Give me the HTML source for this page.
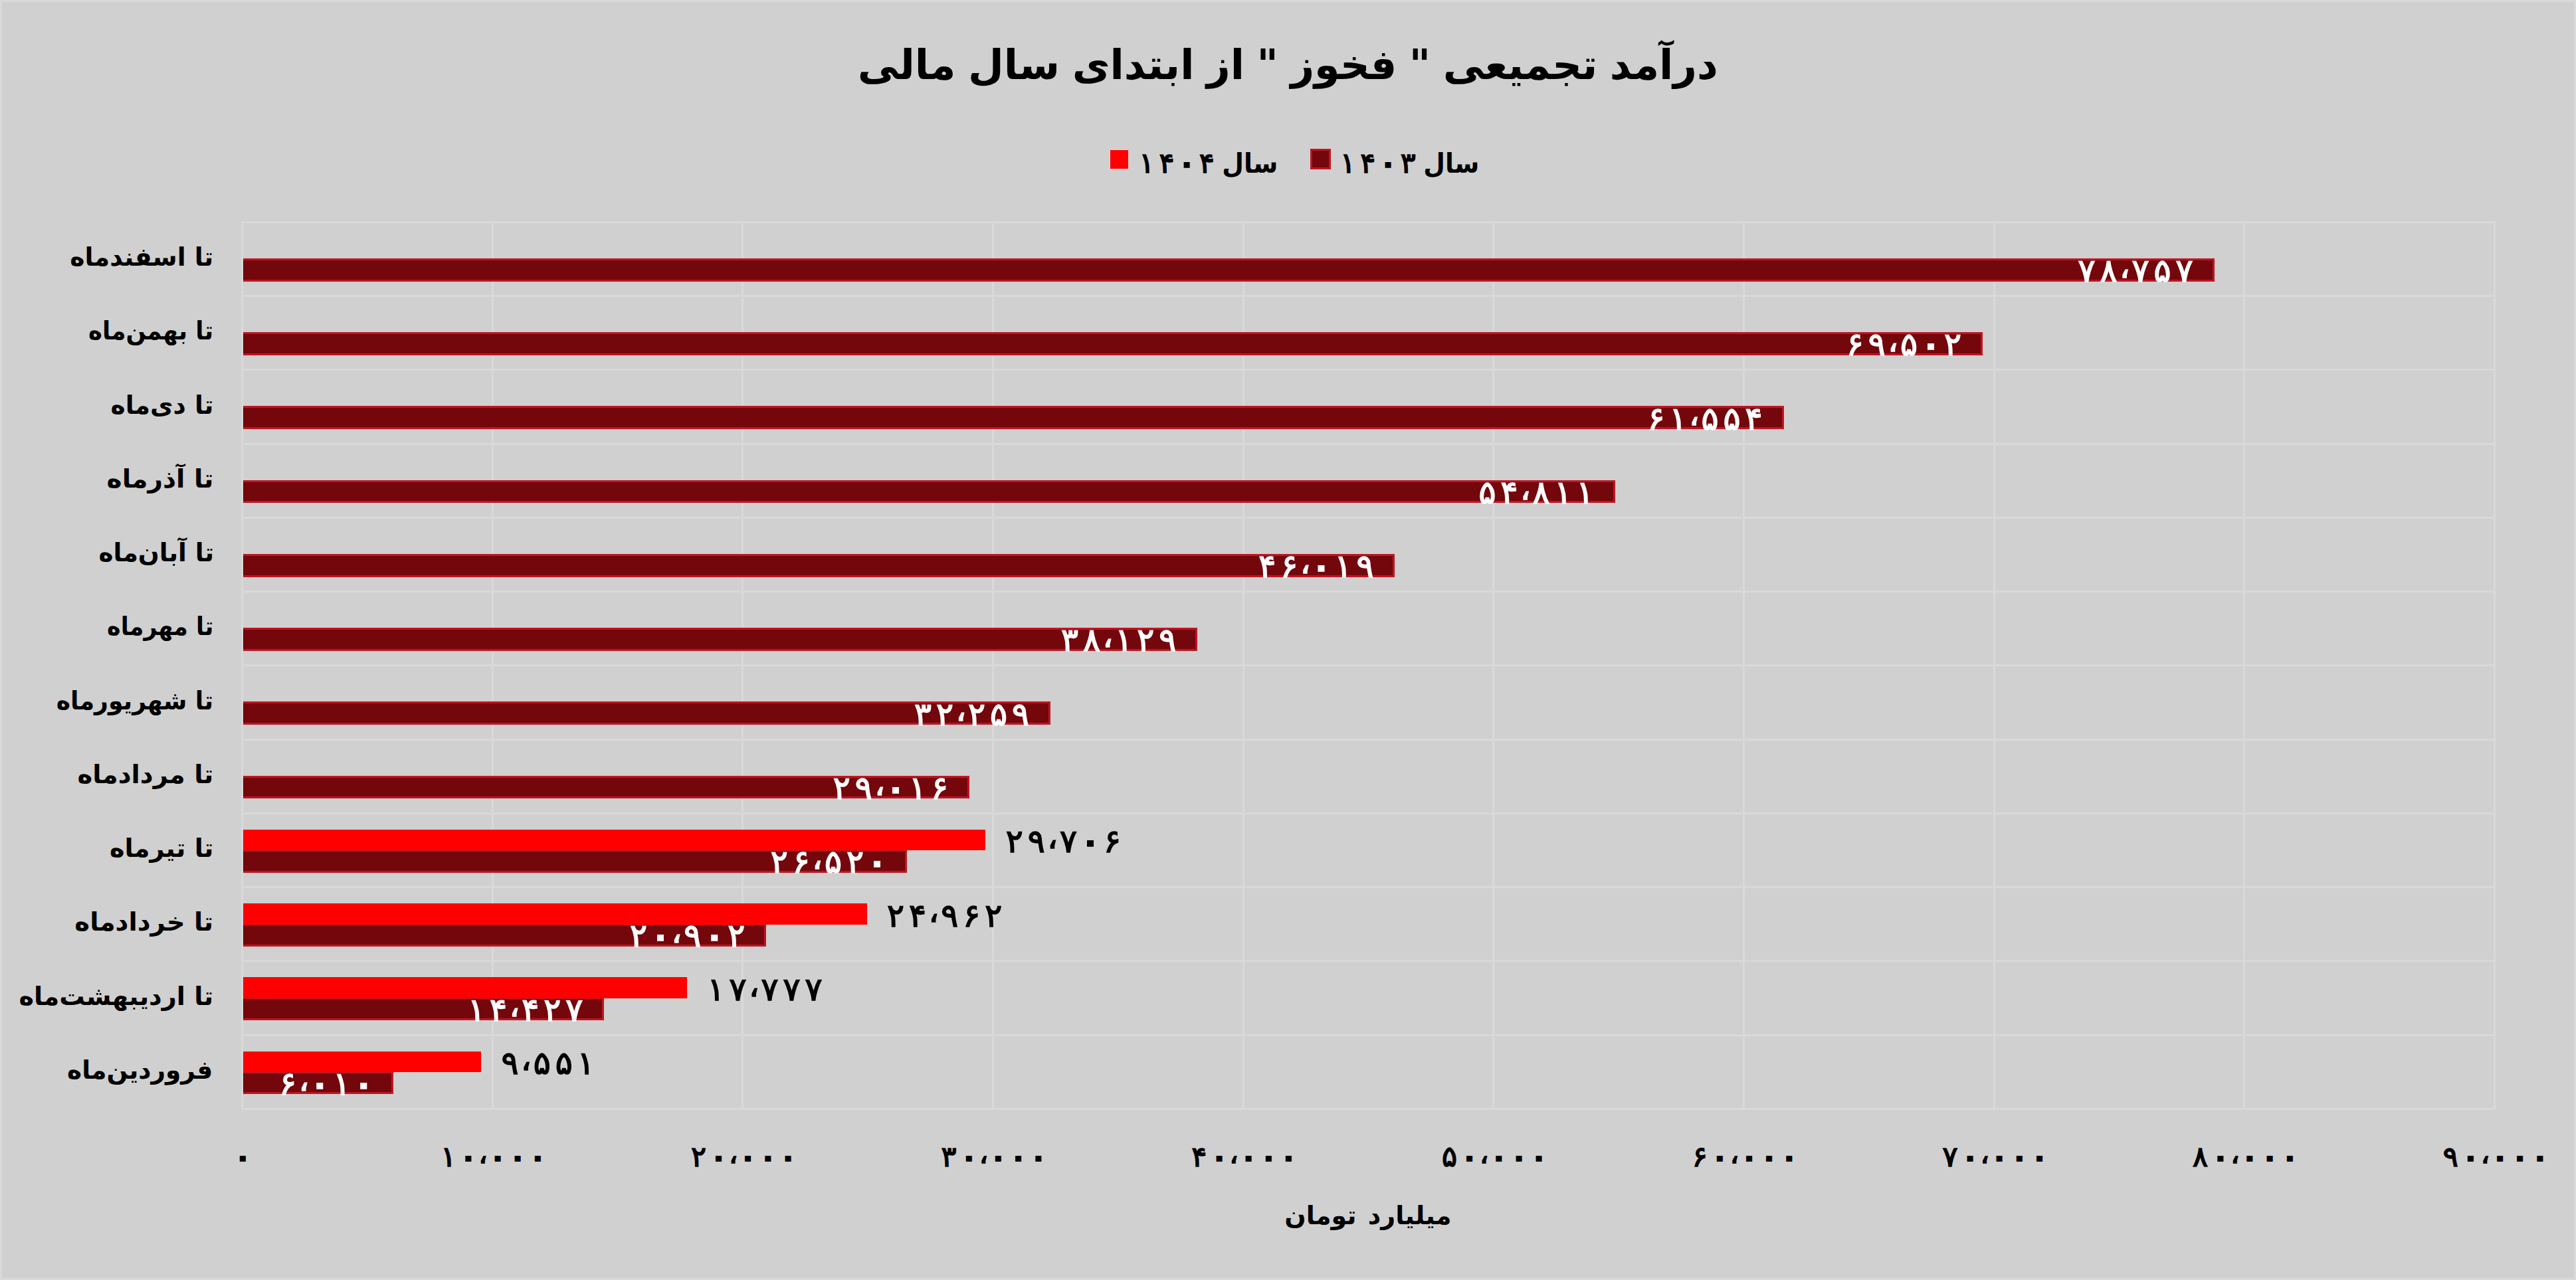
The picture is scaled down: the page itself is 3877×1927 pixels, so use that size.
<!DOCTYPE html>
<html lang="fa"><head><meta charset="utf-8"><title>درآمد تجمیعی فخوز</title>
<style>
html,body{margin:0;padding:0}
body{width:3877px;height:1927px;background:#d0d0d0;position:relative;overflow:hidden;font-family:"DejaVu Sans","Liberation Sans",sans-serif;font-weight:bold;color:#000}
#frame{position:absolute;left:0;top:0;width:3877px;height:1927px;box-sizing:border-box;border:3px solid #d9d9d9}
.t{position:absolute;white-space:nowrap;line-height:1}
.g{position:absolute;background:#d9d9d9}
.d{position:absolute;box-sizing:border-box;background:#73070c;border:3px solid #c01422;border-left:none}
.r{position:absolute;background:#ff0000}
.cat{font-size:38px;direction:rtl;text-align:right;transform-origin:100% 50%;right:3555.5px}
.n{direction:ltr;unicode-bidi:isolate;font-weight:normal;-webkit-text-stroke:1.6px}
.n i,.n b{display:inline-block;font-style:normal;text-align:center}.n i.c{position:relative;top:-.13em}
.vl,.vb{font-size:48.3px}.vl{color:#fff}
.vl i,.vb i,.vl b,.vb b{width:33px}.vl i.c,.vb i.c{width:15.2px}
.ax{font-size:42.8px;top:1720.3px}
.ax i,.lg i,.ax b,.lg b{width:30.2px}.ax i.c{width:13.9px}
</style></head><body>
<div id="frame"></div>
<div class="t" id="title" style="left:0;width:3876.6px;text-align:center;top:66.6px;font-size:62px;direction:rtl;word-spacing:-3px">درآمد تجمیعی " فخوز " از ابتدای سال مالی</div>
<div class="r" style="left:1671px;top:226px;width:27px;height:28px"></div>
<div class="t" style="left:1710.7px;width:212.6px;top:224.1px;font-size:42.8px;direction:rtl"><span style="display:inline-block;transform:scaleX(.92);transform-origin:100% 50%;font-size:41px">سال</span> <span class="n lg" style="position:absolute;left:0;top:0"><i>۱</i><i>۴</i><b>۰</b><i>۴</i></span></div>
<div class="d" style="left:1972px;top:224px;width:31px;height:31px;border-left:3px solid #c01422"></div>
<div class="t" style="left:2013.5px;width:212.6px;top:224.1px;font-size:42.8px;direction:rtl"><span style="display:inline-block;transform:scaleX(.92);transform-origin:100% 50%;font-size:41px">سال</span> <span class="n lg" style="position:absolute;left:0;top:0"><i>۱</i><i>۴</i><b>۰</b><i>۳</i></span></div>
<div class="g" style="left:362.9px;top:332.8px;width:3393.2px;height:3px"></div>
<div class="g" style="left:362.9px;top:444.1px;width:3393.2px;height:3px"></div>
<div class="g" style="left:362.9px;top:555.3px;width:3393.2px;height:3px"></div>
<div class="g" style="left:362.9px;top:666.5px;width:3393.2px;height:3px"></div>
<div class="g" style="left:362.9px;top:777.8px;width:3393.2px;height:3px"></div>
<div class="g" style="left:362.9px;top:889.0px;width:3393.2px;height:3px"></div>
<div class="g" style="left:362.9px;top:1000.3px;width:3393.2px;height:3px"></div>
<div class="g" style="left:362.9px;top:1111.5px;width:3393.2px;height:3px"></div>
<div class="g" style="left:362.9px;top:1222.8px;width:3393.2px;height:3px"></div>
<div class="g" style="left:362.9px;top:1334.0px;width:3393.2px;height:3px"></div>
<div class="g" style="left:362.9px;top:1445.3px;width:3393.2px;height:3px"></div>
<div class="g" style="left:362.9px;top:1556.5px;width:3393.2px;height:3px"></div>
<div class="g" style="left:362.9px;top:1667.8px;width:3393.2px;height:3px"></div>
<div class="g" style="left:362.9px;top:332.8px;width:3px;height:1338.0px"></div>
<div class="g" style="left:739.6px;top:332.8px;width:3px;height:1338.0px"></div>
<div class="g" style="left:1116.3px;top:332.8px;width:3px;height:1338.0px"></div>
<div class="g" style="left:1493.0px;top:332.8px;width:3px;height:1338.0px"></div>
<div class="g" style="left:1869.7px;top:332.8px;width:3px;height:1338.0px"></div>
<div class="g" style="left:2246.3px;top:332.8px;width:3px;height:1338.0px"></div>
<div class="g" style="left:2623.0px;top:332.8px;width:3px;height:1338.0px"></div>
<div class="g" style="left:2999.7px;top:332.8px;width:3px;height:1338.0px"></div>
<div class="g" style="left:3376.4px;top:332.8px;width:3px;height:1338.0px"></div>
<div class="g" style="left:3753.1px;top:332.8px;width:3px;height:1338.0px"></div>
<div class="d" style="left:365.9px;top:388.9px;width:2966.7px;height:34.7px"></div>
<div class="t cat" style="top:368.2px;transform:scaleX(0.994)">تا اسفندماه</div>
<div class="t n vl" style="left:3123.9px;top:383.1px"><i>۷</i><i>۸</i><i class="c">،</i><i>۷</i><i>۵</i><i>۷</i></div>
<div class="d" style="left:365.9px;top:500.1px;width:2618.1px;height:34.7px"></div>
<div class="t cat" style="top:479.4px;transform:scaleX(0.935)">تا بهمن‌ماه</div>
<div class="t n vl" style="left:2775.3px;top:494.3px"><i>۶</i><i>۹</i><i class="c">،</i><i>۵</i><b>۰</b><i>۲</i></div>
<div class="d" style="left:365.9px;top:611.4px;width:2318.7px;height:34.7px"></div>
<div class="t cat" style="top:590.7px;transform:scaleX(0.991)">تا دی‌ماه</div>
<div class="t n vl" style="left:2475.9px;top:605.6px"><i>۶</i><i>۱</i><i class="c">،</i><i>۵</i><i>۵</i><i>۴</i></div>
<div class="d" style="left:365.9px;top:722.6px;width:2064.7px;height:34.7px"></div>
<div class="t cat" style="top:701.9px;transform:scaleX(1.028)">تا آذرماه</div>
<div class="t n vl" style="left:2221.9px;top:716.8px"><i>۵</i><i>۴</i><i class="c">،</i><i>۸</i><i>۱</i><i>۱</i></div>
<div class="d" style="left:365.9px;top:833.9px;width:1733.5px;height:34.7px"></div>
<div class="t cat" style="top:813.2px;transform:scaleX(0.986)">تا آبان‌ماه</div>
<div class="t n vl" style="left:1890.7px;top:828.1px"><i>۴</i><i>۶</i><i class="c">،</i><b>۰</b><i>۱</i><i>۹</i></div>
<div class="d" style="left:365.9px;top:945.1px;width:1436.3px;height:34.7px"></div>
<div class="t cat" style="top:924.4px;transform:scaleX(0.919)">تا مهرماه</div>
<div class="t n vl" style="left:1593.5px;top:939.3px"><i>۳</i><i>۸</i><i class="c">،</i><i>۱</i><i>۲</i><i>۹</i></div>
<div class="d" style="left:365.9px;top:1056.4px;width:1215.2px;height:34.7px"></div>
<div class="t cat" style="top:1035.7px;transform:scaleX(0.953)">تا شهریورماه</div>
<div class="t n vl" style="left:1372.4px;top:1050.6px"><i>۳</i><i>۲</i><i class="c">،</i><i>۲</i><i>۵</i><i>۹</i></div>
<div class="d" style="left:365.9px;top:1167.7px;width:1093.0px;height:34.7px"></div>
<div class="t cat" style="top:1146.9px;transform:scaleX(1.018)">تا مردادماه</div>
<div class="t n vl" style="left:1250.2px;top:1161.8px"><i>۲</i><i>۹</i><i class="c">،</i><b>۰</b><i>۱</i><i>۶</i></div>
<div class="d" style="left:365.9px;top:1278.9px;width:999.0px;height:34.7px"></div>
<div class="r" style="left:365.9px;top:1248.7px;width:1117.5px;height:31.7px"></div>
<div class="t cat" style="top:1258.2px;transform:scaleX(1.007)">تا تیرماه</div>
<div class="t n vl" style="left:1156.2px;top:1273.1px"><i>۲</i><i>۶</i><i class="c">،</i><i>۵</i><i>۲</i><b>۰</b></div>
<div class="t n vb" style="left:1510.3px;top:1242.4px"><i>۲</i><i>۹</i><i class="c">،</i><i>۷</i><b>۰</b><i>۶</i></div>
<div class="d" style="left:365.9px;top:1390.2px;width:787.4px;height:34.7px"></div>
<div class="r" style="left:365.9px;top:1360.0px;width:938.8px;height:31.7px"></div>
<div class="t cat" style="top:1369.4px;transform:scaleX(1.018)">تا خردادماه</div>
<div class="t n vl" style="left:944.6px;top:1384.3px"><i>۲</i><b>۰</b><i class="c">،</i><i>۹</i><b>۰</b><i>۲</i></div>
<div class="t n vb" style="left:1331.6px;top:1353.6px"><i>۲</i><i>۴</i><i class="c">،</i><i>۹</i><i>۶</i><i>۲</i></div>
<div class="d" style="left:365.9px;top:1501.4px;width:543.4px;height:34.7px"></div>
<div class="r" style="left:365.9px;top:1471.2px;width:668.1px;height:31.7px"></div>
<div class="t cat" style="top:1480.7px;transform:scaleX(1.009)">تا اردیبهشت‌ماه</div>
<div class="t n vl" style="left:700.6px;top:1495.6px"><i>۱</i><i>۴</i><i class="c">،</i><i>۴</i><i>۲</i><i>۷</i></div>
<div class="t n vb" style="left:1060.9px;top:1464.9px"><i>۱</i><i>۷</i><i class="c">،</i><i>۷</i><i>۷</i><i>۷</i></div>
<div class="d" style="left:365.9px;top:1612.7px;width:226.4px;height:34.7px"></div>
<div class="r" style="left:365.9px;top:1582.5px;width:358.3px;height:31.7px"></div>
<div class="t cat" style="top:1591.9px;transform:scaleX(0.986);right:3557.2px">فروردین‌ماه</div>
<div class="t n vl" style="left:416.6px;top:1606.8px"><i>۶</i><i class="c">،</i><b>۰</b><i>۱</i><b>۰</b></div>
<div class="t n vb" style="left:751.1px;top:1576.1px"><i>۹</i><i class="c">،</i><i>۵</i><i>۵</i><i>۱</i></div>
<div class="t n ax" style="left:350.3px"><b>۰</b></div>
<div class="t n ax" style="left:659.6px"><i>۱</i><b>۰</b><i class="c">،</i><b>۰</b><b>۰</b><b>۰</b></div>
<div class="t n ax" style="left:1036.3px"><i>۲</i><b>۰</b><i class="c">،</i><b>۰</b><b>۰</b><b>۰</b></div>
<div class="t n ax" style="left:1413.0px"><i>۳</i><b>۰</b><i class="c">،</i><b>۰</b><b>۰</b><b>۰</b></div>
<div class="t n ax" style="left:1789.7px"><i>۴</i><b>۰</b><i class="c">،</i><b>۰</b><b>۰</b><b>۰</b></div>
<div class="t n ax" style="left:2166.4px"><i>۵</i><b>۰</b><i class="c">،</i><b>۰</b><b>۰</b><b>۰</b></div>
<div class="t n ax" style="left:2543.1px"><i>۶</i><b>۰</b><i class="c">،</i><b>۰</b><b>۰</b><b>۰</b></div>
<div class="t n ax" style="left:2919.8px"><i>۷</i><b>۰</b><i class="c">،</i><b>۰</b><b>۰</b><b>۰</b></div>
<div class="t n ax" style="left:3296.5px"><i>۸</i><b>۰</b><i class="c">،</i><b>۰</b><b>۰</b><b>۰</b></div>
<div class="t n ax" style="left:3673.1px"><i>۹</i><b>۰</b><i class="c">،</i><b>۰</b><b>۰</b><b>۰</b></div>
<div class="t" id="axt" style="left:1758.9px;width:600px;text-align:center;top:1811.3px;font-size:38px;direction:rtl;word-spacing:4px">میلیارد تومان</div>
</body></html>
